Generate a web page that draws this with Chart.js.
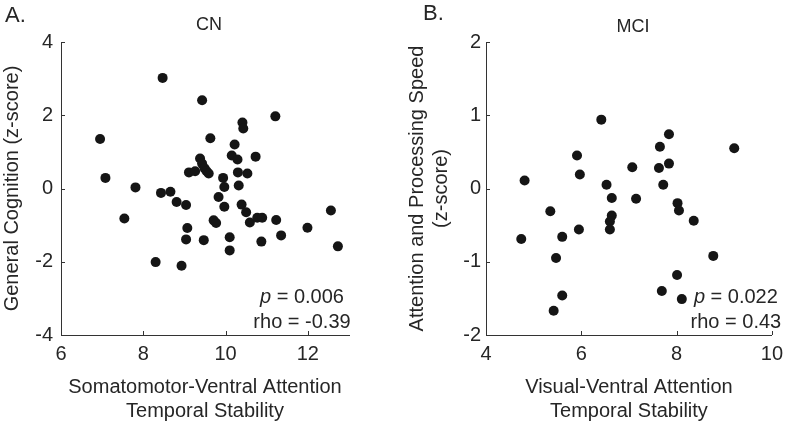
<!DOCTYPE html>
<html><head><meta charset="utf-8">
<script src="https://cdn.jsdelivr.net/npm/chart.js@4.4.1/dist/chart.umd.min.js"></script>
<style>
html,body{margin:0;padding:0;background:#fff;}
#wrap{position:relative;width:790px;height:426px;overflow:hidden;background:#fff;}
canvas{position:absolute;top:0;}
</style></head><body>
<div id="wrap">
<canvas id="c1" width="395" height="426" style="left:0px"></canvas>
<canvas id="c2" width="395" height="426" style="left:395px"></canvas>
</div>
<script>
// ---- Panel A: CN ----
const cnX = [6.95,7.08,7.54,7.81,8.30,8.43,8.47,8.66,8.81,8.93,9.04,9.07,9.04,9.11,9.26,9.43,9.38,9.43,9.49,9.54,9.59,9.47,9.63,9.83,9.71,9.77,9.94,9.97,9.97,10.10,10.10,10.22,10.15,10.29,10.30,10.32,10.39,10.41,10.43,10.50,10.53,10.59,10.73,10.77,10.89,10.87,11.21,11.23,11.35,11.99,12.56,12.73];
const cnY = [1.35,0.29,-0.82,0.03,-2.01,-0.12,3.02,-0.09,-0.37,-2.11,-0.45,-1.08,-1.39,0.44,0.47,2.41,0.82,0.68,0.55,0.47,0.41,-1.41,1.37,-0.23,-0.87,-0.94,0.29,0.04,-0.50,-1.33,-1.69,1.20,0.90,0.79,0.44,0.08,-0.44,1.80,1.64,-0.65,0.41,-0.93,0.87,-0.80,-0.80,-1.45,1.97,-0.86,-1.28,-1.07,-0.60,-1.58];
const cnXTicks = [6, 8, 10, 12];
const cnYTicks = [-4, -2, 0, 2, 4];
const cnXRange = [6, 13];
const cnYRange = [-4, 4];
const cnTitle = 'CN';
const cnXLabel = ['Somatomotor-Ventral Attention', 'Temporal Stability'];
const cnYLabel = 'General Cognition (z-score)';
const cnStats = [['p', ' = 0.006'], ['', 'rho = -0.39']];

// ---- Panel B: MCI ----
const mciX = [4.74,4.81,5.35,5.42,5.47,5.60,5.60,5.91,5.97,5.95,6.42,6.53,6.64,6.64,6.60,6.60,7.07,7.15,7.65,7.63,7.84,7.84,7.72,8.02,8.05,8.36,8.77,8.01,7.69,8.11,9.21];
const mciY = [-0.69,0.11,-0.31,-1.67,-0.95,-0.66,-1.46,0.45,0.19,-0.56,0.94,0.05,-0.13,-0.37,-0.45,-0.56,0.29,-0.14,0.57,0.28,0.74,0.34,0.05,-0.20,-0.30,-0.44,-0.92,-1.18,-1.40,-1.51,0.55];
const mciXTicks = [4, 6, 8, 10];
const mciYTicks = [-2, -1, 0, 1, 2];
const mciXRange = [4, 10];
const mciYRange = [-2, 2];
const mciTitle = 'MCI';
const mciXLabel = ['Visual-Ventral Attention', 'Temporal Stability'];
const mciYLabel = ['Attention and Processing Speed', '(z-score)'];
const mciStats = [['p', ' = 0.022'], ['', 'rho = 0.43']];

const FONT = '"Liberation Sans", Arial, Helvetica, sans-serif';
const TEXT = '#262626';
const AXIS = '#333333';
const DOT = '#151515';

const panelDecor = {
  id: 'panelDecor',
  afterDraw(chart, args, o) {
    const ctx = chart.ctx, a = chart.chartArea;
    const xs = chart.scales.x, ys = chart.scales.y;
    ctx.save();
    ctx.strokeStyle = AXIS; ctx.lineWidth = 1;
    xs.ticks.forEach(t => {
      const px = Math.round(xs.getPixelForValue(t.value)) + 0.5;
      ctx.beginPath(); ctx.moveTo(px, a.bottom); ctx.lineTo(px, a.bottom - 4); ctx.stroke();
    });
    ys.ticks.forEach(t => {
      const py = Math.round(ys.getPixelForValue(t.value)) + 0.5;
      ctx.beginPath(); ctx.moveTo(a.left, py); ctx.lineTo(a.left + 4, py); ctx.stroke();
    });
    ctx.fillStyle = TEXT;
    ctx.textBaseline = 'middle';
    ctx.textAlign = 'left';
    ctx.font = '22px ' + FONT;
    ctx.fillText(o.letter, o.letterX, o.letterY);
    ctx.textAlign = 'center';
    ctx.font = '18px ' + FONT;
    ctx.fillText(o.title, (a.left + a.right) / 2 + 4, a.top + o.titleDy);
    // stats
    ctx.textAlign = 'left';
    o.stats.forEach((s, i) => {
      const y = a.bottom + (i === 0 ? -37.5 : -13);
      ctx.font = 'italic 20px ' + FONT;
      const w1 = ctx.measureText(s[0]).width;
      ctx.font = '20px ' + FONT;
      const w2 = ctx.measureText(s[1]).width;
      let x = a.right + o.statsDx - (w1 + w2) / 2;
      ctx.font = 'italic 20px ' + FONT;
      ctx.fillText(s[0], x, y);
      ctx.font = '20px ' + FONT;
      ctx.fillText(s[1], x + w1, y);
    });
    ctx.restore();
  }
};

function makeChart(id, xs, ys, xTicks, yTicks, xR, yR, xLab, yLab, cfg) {
  const pts = xs.map((v, i) => ({x: v, y: ys[i]}));
  return new Chart(document.getElementById(id), {
    type: 'scatter',
    data: {datasets: [{data: pts, backgroundColor: DOT, borderWidth: 0, pointRadius: 5, pointHoverRadius: 5}]},
    plugins: [panelDecor],
    options: {
      responsive: false, animation: false, devicePixelRatio: 1,
      layout: {padding: {left: 0, top: cfg.top, right: cfg.right, bottom: 0}},
      plugins: {
        legend: {display: false}, tooltip: {enabled: false},
        panelDecor: cfg.decor
      },
      scales: {
        x: {
          type: 'linear', min: xR[0], max: xR[1],
          afterBuildTicks: s => { s.ticks = xTicks.map(v => ({value: v})); },
          afterFit: s => { s.height = cfg.xh; },
          grid: {display: false, drawTicks: false},
          border: {display: true, color: AXIS, width: 1},
          ticks: {font: {size: 20, family: FONT}, color: TEXT, padding: 7, maxRotation: 0, autoSkip: false},
          title: {display: true, text: xLab, font: {size: 20, family: FONT, lineHeight: 1.2}, color: TEXT, padding: {top: 0, bottom: 3}}
        },
        y: {
          type: 'linear', min: yR[0], max: yR[1],
          afterBuildTicks: s => { s.ticks = yTicks.map(v => ({value: v})); },
          afterFit: s => { s.width = cfg.yw; },
          grid: {display: false, drawTicks: false},
          border: {display: true, color: AXIS, width: 1},
          ticks: {font: {size: 20, family: FONT}, color: TEXT, padding: cfg.ypad, autoSkip: false},
          title: {display: true, text: yLab, font: {size: 20, family: FONT, lineHeight: 1.2}, color: TEXT, padding: {top: cfg.ytitlePad, bottom: 0}}
        }
      }
    }
  });
}

makeChart('c1', cnX, cnY, cnXTicks, cnYTicks, cnXRange, cnYRange, cnXLabel, cnYLabel,
  {top: 42, right: 46, xh: 91, yw: 61, ypad: 8, ytitlePad: 0,
   decor: {letter: 'A.', letterX: 5, letterY: 16, title: cnTitle, titleDy: -17, stats: cnStats, statsDx: -47}});
makeChart('c2', mciX, mciY, mciXTicks, mciYTicks, mciXRange, mciYRange, mciXLabel, mciYLabel,
  {top: 42, right: 14, xh: 91, yw: 91, ypad: 5, ytitlePad: 10,
   decor: {letter: 'B.', letterX: 28, letterY: 14, title: mciTitle, titleDy: -15, stats: mciStats, statsDx: -36}});
</script>
</body></html>
